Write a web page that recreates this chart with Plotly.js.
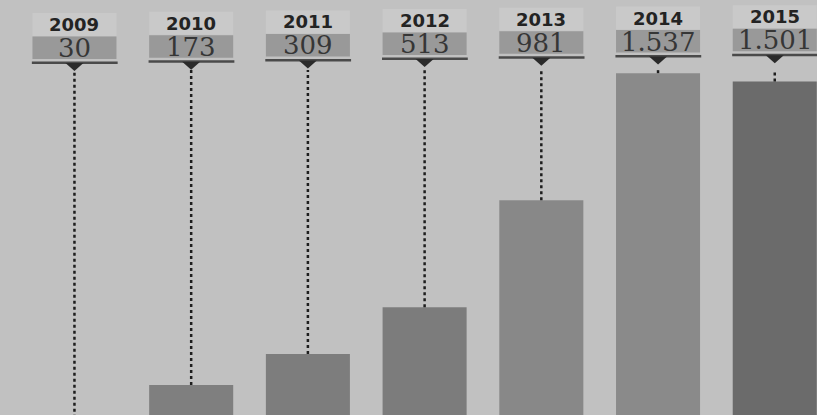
<!DOCTYPE html>
<html>
<head>
<meta charset="utf-8">
<script src="https://cdn.plot.ly/plotly-3.0.1.min.js"></script>
<style>
html,body{margin:0;padding:0;background:#c1c1c1;}
#chart{width:817px;height:415px;}
</style>
</head>
<body>
<div id="chart"></div>
<script>
// Data
const years = ['2009', '2010', '2011', '2012', '2013', '2014', '2015'];
const values = [30, 173, 309, 513, 981, 1537, 1501];
const barColors = ['#7e7e7e', '#7f7f7f', '#7d7d7d', '#7c7c7c', '#888888', '#8a8a8a', '#6b6b6b'];

// Layout constants
const W = 817, H = 415;
const Y_MIN = 42, Y_MAX = 1857;
const X_MIN = -0.638, X_MAX = 6.362;
const LINE_TOP_PX = 70;
const lineTopValue = Y_MAX - (LINE_TOP_PX / H) * (Y_MAX - Y_MIN);

function fmt(v) {
  const s = String(v);
  return s.replace(/\B(?=(\d{3})+(?!\d))/g, '.');
}

const traces = [];
traces.push({
  type: 'bar', x: years, y: values,
  marker: {color: barColors, line: {width: 0}},
  hoverinfo: 'skip', showlegend: false
});
// dotted connector lines
const lx = [], ly = [];
years.forEach((yr, i) => { lx.push(yr, yr, null); ly.push(values[i], lineTopValue, null); });
traces.push({
  type: 'scatter', mode: 'lines', x: lx, y: ly,
  line: {color: '#1e1e1e', width: 2.5, dash: 'dot'},
  hoverinfo: 'skip', showlegend: false
});
// invisible trace on pixel axis
traces.push({type: 'scatter', mode: 'markers', x: [years[0]], y: [0], yaxis: 'y2',
  marker: {opacity: 0}, hoverinfo: 'skip', showlegend: false});

const shapes = [], annotations = [];
years.forEach((yr, i) => {
  const t = -1.3 * i;
  const hw = 0.36;
  shapes.push({type: 'rect', xref: 'x', yref: 'y2', x0: i - hw, x1: i + hw, y0: 13 + t, y1: 36 + t,
    fillcolor: '#c9c9c9', line: {width: 0}, layer: 'above'});
  shapes.push({type: 'rect', xref: 'x', yref: 'y2', x0: i - hw, x1: i + hw, y0: 36.5 + t, y1: 59 + t,
    fillcolor: '#999999', line: {width: 0}, layer: 'above'});
  shapes.push({type: 'rect', xref: 'x', yref: 'y2', x0: i - hw - 0.005, x1: i + hw + 0.01, y0: 61.5 + t, y1: 64 + t,
    fillcolor: '#4a4a4a', line: {width: 0}, layer: 'above'});
  shapes.push({type: 'path', xref: 'x', yref: 'y2', xsizemode: 'pixel', xanchor: i,
    path: `M -9,${63 + t} L 9,${63 + t} L 0,${71 + t} Z`,
    fillcolor: '#2a2a2a', line: {width: 0}, layer: 'above'});
  annotations.push({xref: 'x', yref: 'y2', x: i, y: 24.5 + t, text: '<b>' + yr + '</b>', showarrow: false,
    font: {family: 'DejaVu Sans', size: 18, color: '#232323'}});
  annotations.push({xref: 'x', yref: 'y2', x: i, y: 48 + t, text: fmt(values[i]), showarrow: false,
    font: {family: 'DejaVu Serif', size: 26, color: '#363636'}});
});

const layout = {
  width: W, height: H,
  margin: {l: 0, r: 0, t: 0, b: 0, pad: 0},
  paper_bgcolor: '#c1c1c1', plot_bgcolor: '#c1c1c1',
  bargap: 0.28,
  xaxis: {type: 'category', range: [X_MIN, X_MAX], visible: false, fixedrange: true},
  yaxis: {range: [Y_MIN, Y_MAX], visible: false, fixedrange: true},
  yaxis2: {range: [H, 0], overlaying: 'y', visible: false, fixedrange: true},
  shapes: shapes, annotations: annotations,
  showlegend: false
};

Plotly.newPlot('chart', traces, layout, {staticPlot: true, displayModeBar: false});
</script>
</body>
</html>
